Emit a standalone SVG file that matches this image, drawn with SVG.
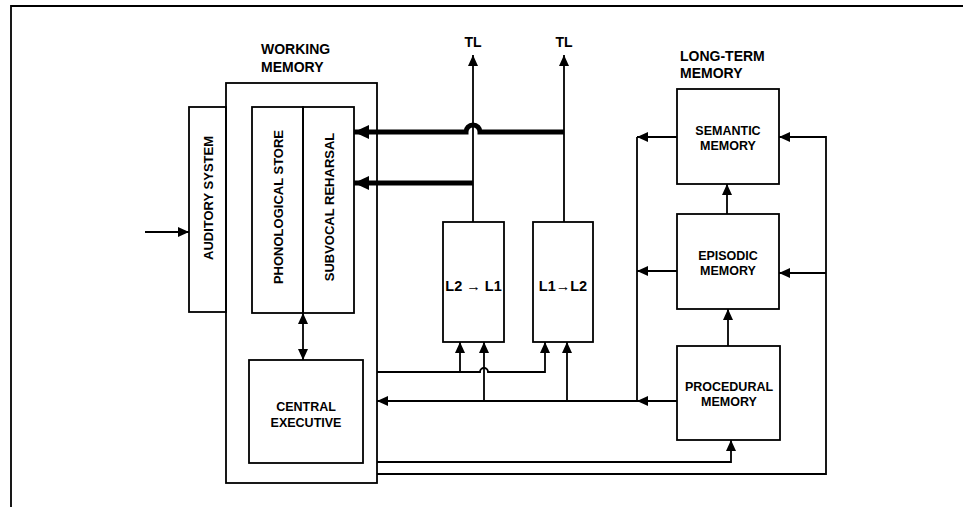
<svg xmlns="http://www.w3.org/2000/svg" width="963" height="507" viewBox="0 0 963 507">
<style>
.box{fill:none;stroke:#000;stroke-width:1.8}
.ln{fill:none;stroke:#000;stroke-width:1.8}
.thick{fill:none;stroke:#000;stroke-width:5}
text{font-family:"Liberation Sans",Arial,sans-serif;font-weight:bold;fill:#000}
.t{font-size:12.5px;text-anchor:middle}
.h{font-size:14px}
.r{font-size:13px;text-anchor:middle;dominant-baseline:central}
.big{font-size:14.5px;text-anchor:middle}
</style>
<defs>
<marker id="a" markerUnits="userSpaceOnUse" markerWidth="11" markerHeight="10" refX="11" refY="5" orient="auto-start-reverse" viewBox="0 0 11 10"><path d="M0,0 L11,5 L0,10 z" fill="#000"/></marker>
<marker id="A" markerUnits="userSpaceOnUse" markerWidth="15" markerHeight="14" refX="15" refY="7" orient="auto" viewBox="0 0 15 14"><path d="M0,0 L15,7 L0,14 z" fill="#000"/></marker>
</defs>
<path class="ln" d="M11,507 V6 H963"/>
<g id="labels">
<text class="h" x="261" y="54">WORKING</text>
<text class="h" x="261" y="72">MEMORY</text>
<text class="h" x="680" y="61">LONG-TERM</text>
<text class="h" x="680" y="78">MEMORY</text>
<text class="h" x="473" y="47" text-anchor="middle">TL</text>
<text class="h" x="564" y="47" text-anchor="middle">TL</text>
</g>
<g id="auditory">
<rect class="box" x="189" y="107" width="37" height="205"/>
<text class="r" transform="translate(208,198) rotate(-90)">AUDITORY  SYSTEM</text>
</g>
<g id="working-memory">
<rect class="box" x="226" y="83" width="151" height="400"/>
</g>
<g id="phonological-store">
<rect class="box" x="252" y="107" width="51" height="206"/>
<text class="r" transform="translate(278,207) rotate(-90)">PHONOLOGICAL  STORE</text>
</g>
<g id="subvocal-rehearsal">
<rect class="box" x="303" y="107" width="51" height="206"/>
<text class="r" transform="translate(329,207) rotate(-90)">SUBVOCAL  REHARSAL</text>
</g>
<g id="central-executive">
<rect class="box" x="249" y="360" width="114" height="103"/>
<text class="t" x="306" y="411">CENTRAL</text>
<text class="t" x="306" y="427">EXECUTIVE</text>
</g>
<g id="l2-l1">
<rect class="box" x="443" y="222" width="61" height="120"/>
<text class="big" x="473.5" y="291">L2 → L1</text>
</g>
<g id="l1-l2">
<rect class="box" x="533" y="222" width="60" height="120"/>
<text class="big" x="563" y="291">L1→L2</text>
</g>
<g id="semantic">
<rect class="box" x="677" y="89" width="102" height="95"/>
<text class="t" x="728" y="135">SEMANTIC</text>
<text class="t" x="728" y="150">MEMORY</text>
</g>
<g id="episodic">
<rect class="box" x="677" y="214" width="102" height="95"/>
<text class="t" x="728" y="260">EPISODIC</text>
<text class="t" x="728" y="275">MEMORY</text>
</g>
<g id="procedural">
<rect class="box" x="677" y="346" width="103" height="94"/>
<text class="t" x="729" y="391">PROCEDURAL</text>
<text class="t" x="729" y="406">MEMORY</text>
</g>
<g id="connectors">
<path class="ln" d="M145,232 H189" marker-end="url(#a)"/>
<path class="ln" d="M303,313 V360" marker-start="url(#a)" marker-end="url(#a)"/>
<path class="ln" d="M473,222 V55" marker-end="url(#a)"/>
<path class="ln" d="M564,222 V55" marker-end="url(#a)"/>
<path class="thick" d="M564,132 H480 A7,7 0 0 0 466,132 H354" marker-end="url(#A)"/>
<path class="thick" d="M473,183 H354" marker-end="url(#A)"/>
<path class="ln" d="M377,372 H480 A4,4 0 0 1 488,372 H545 V342" marker-end="url(#a)"/>
<path class="ln" d="M460,372 V342" marker-end="url(#a)"/>
<path class="ln" d="M484,401 V342" marker-end="url(#a)"/>
<path class="ln" d="M567,401 V342" marker-end="url(#a)"/>
<path class="ln" d="M677,401 H637" marker-end="url(#a)"/>
<path class="ln" d="M637,401 H377" marker-end="url(#a)"/>
<path class="ln" d="M637,137 V401"/>
<path class="ln" d="M677,137 H637" marker-end="url(#a)"/>
<path class="ln" d="M677,271 H637" marker-end="url(#a)"/>
<path class="ln" d="M377,462 H731 V440" marker-end="url(#a)"/>
<path class="ln" d="M377,474 H826 V137 H779" marker-end="url(#a)"/>
<path class="ln" d="M826,273 H779" marker-end="url(#a)"/>
<path class="ln" d="M727,214 V184" marker-end="url(#a)"/>
<path class="ln" d="M728,346 V309" marker-end="url(#a)"/>
</g>
</svg>
